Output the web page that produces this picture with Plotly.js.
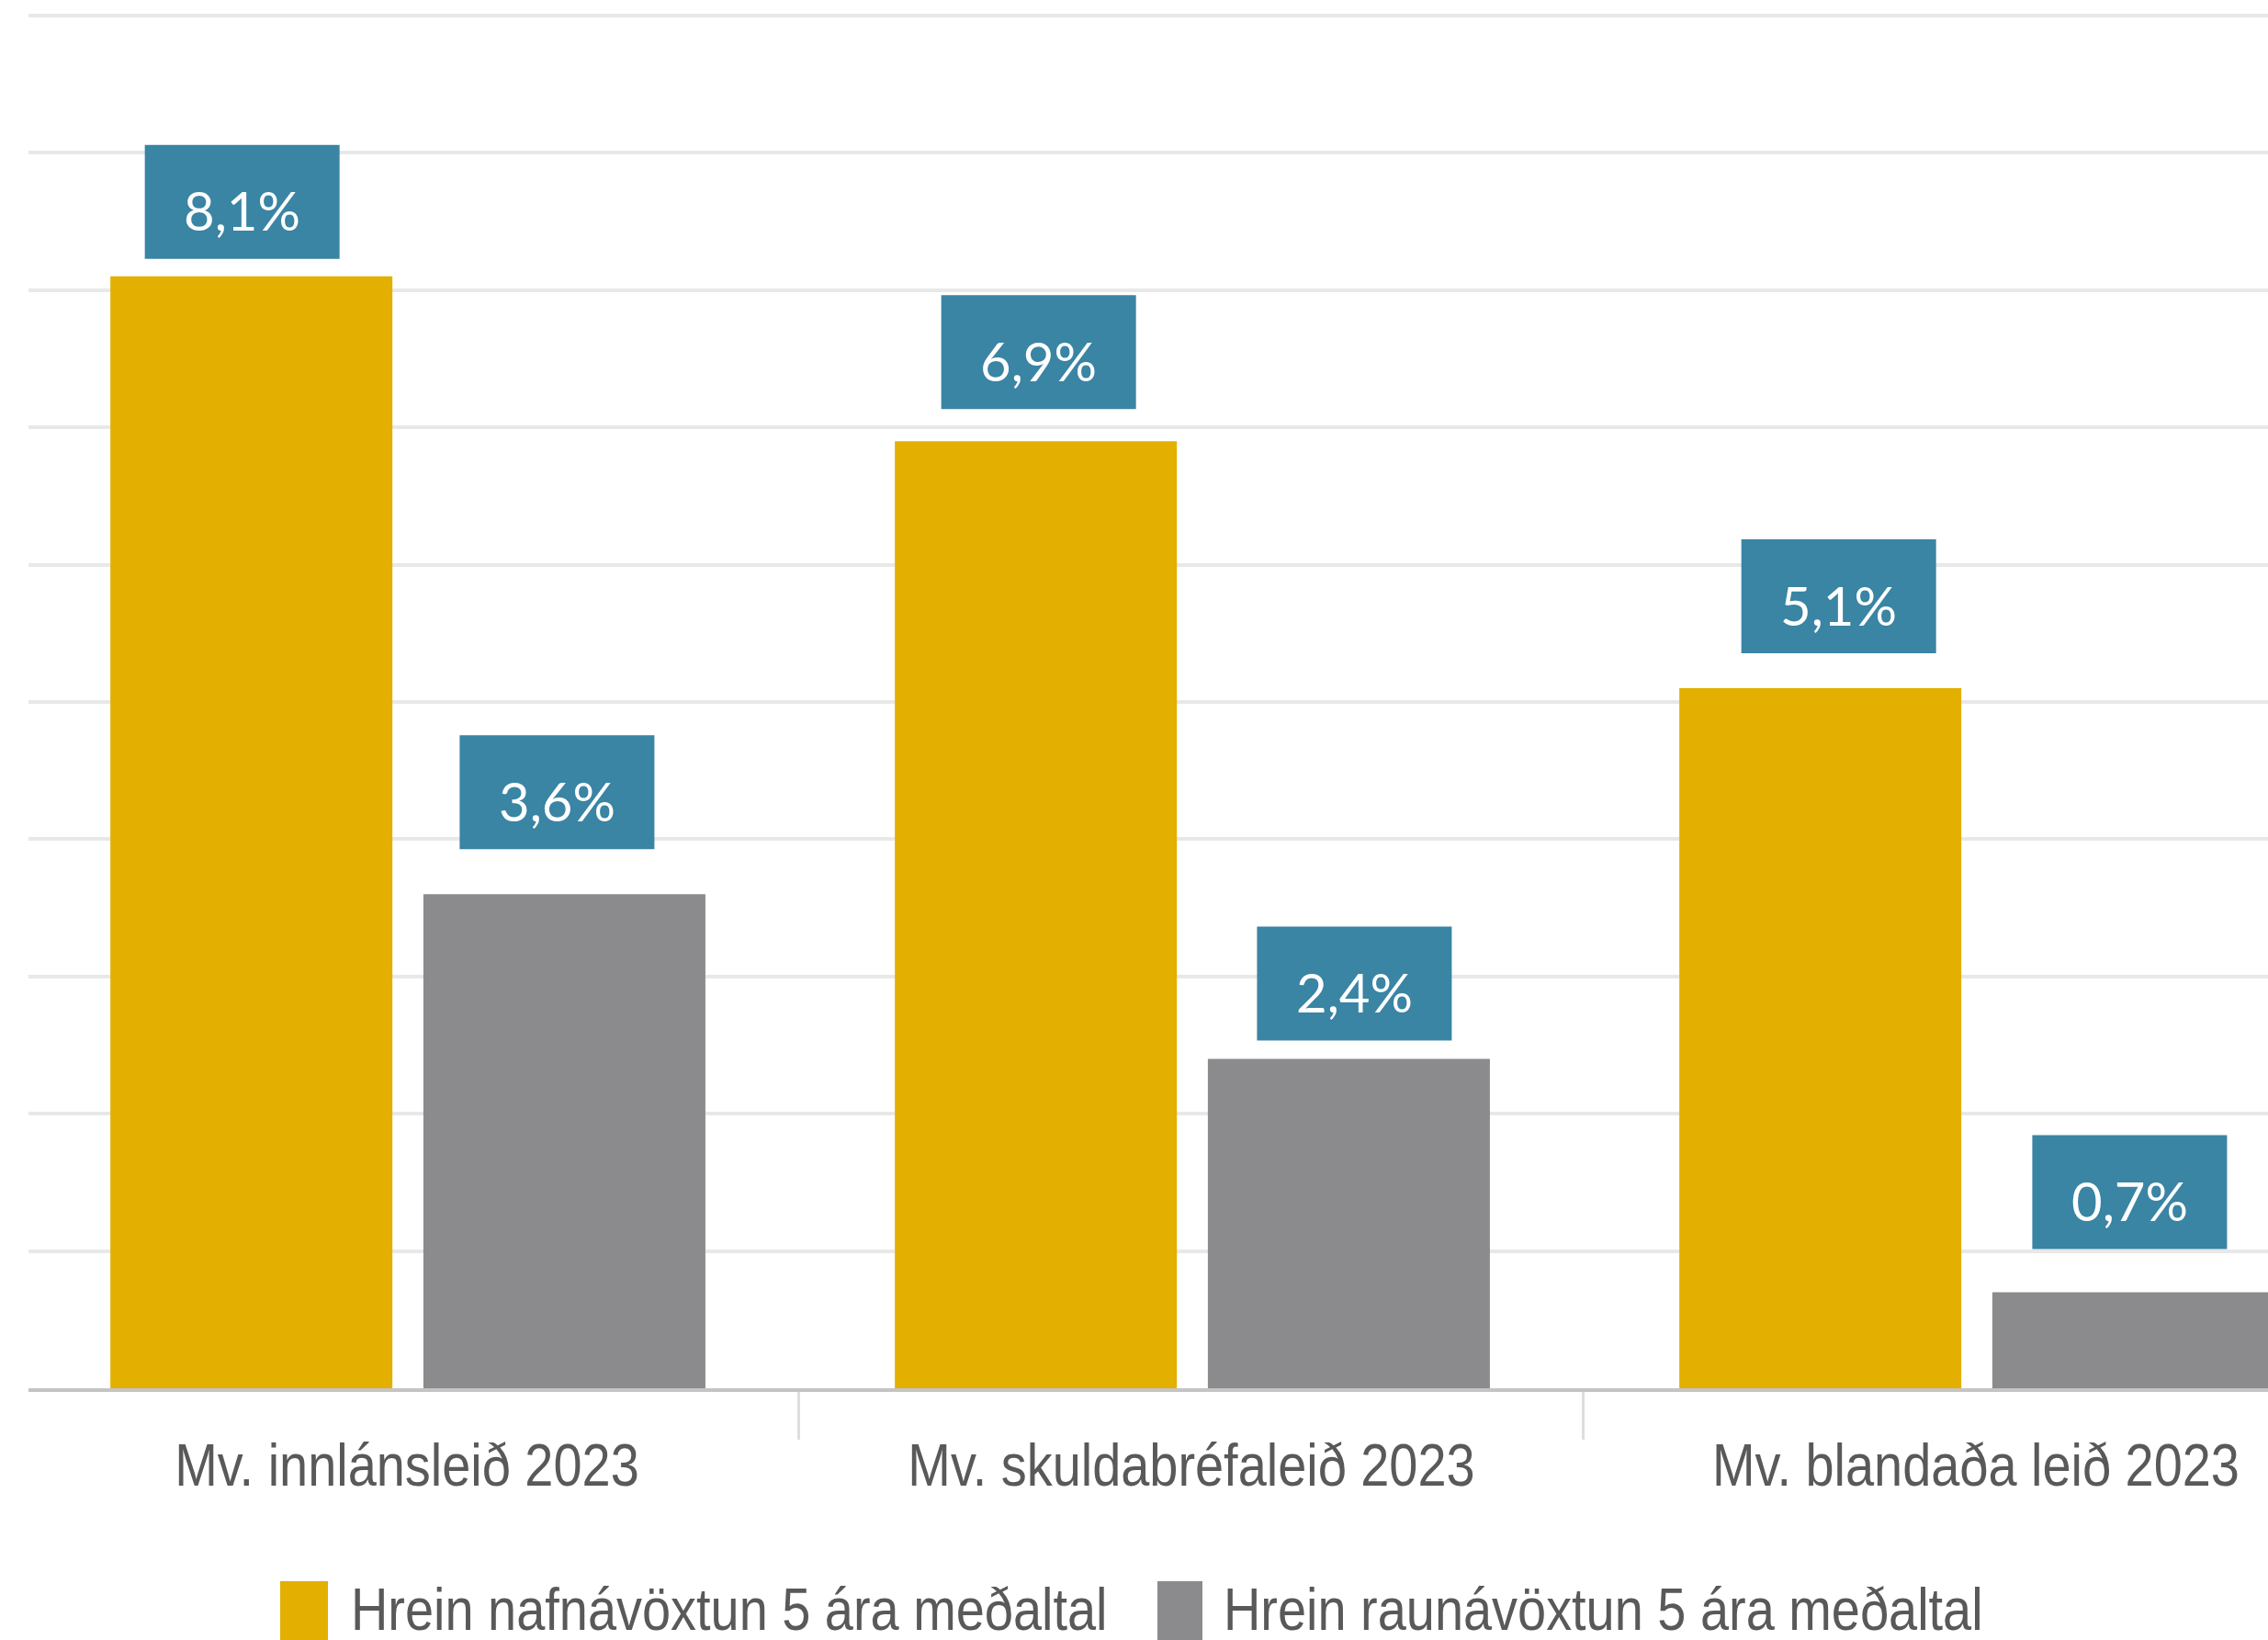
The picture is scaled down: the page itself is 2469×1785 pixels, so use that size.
<!DOCTYPE html>
<html>
<head>
<meta charset="utf-8">
<script src="https://cdn.plot.ly/plotly-3.0.1.min.js"></script>
<style>
  html, body { margin: 0; padding: 0; background: #ffffff; overflow: hidden; }
  #chart { width: 2469px; height: 1785px; }
</style>
</head>
<body>
<div id="chart"></div>
<script>
// ---- data ----
const categories = ["Mv. innlánsleið 2023", "Mv. skuldabréfaleið 2023", "Mv. blandaða leið 2023"];
const seriesNames = ["Hrein nafnávöxtun 5 ára meðaltal", "Hrein raunávöxtun 5 ára meðaltal"];
const nominalValues = [8.1, 6.9, 5.1];
const realValues = [3.6, 2.4, 0.7];

// ---- style ----
const W = 2469, H = 1785;
const M = { l: 31, r: 0, t: 15, b: 274 };
const plotW = W - M.l - M.r, plotH = H - M.t - M.b;
const colors = ["#E3AF00", "#8B8B8D"];
const boxColor = "#3A84A4";
const barWidth = 0.3595;
const barOffsets = [-0.378, 0.021];
const sansFont = "'Liberation Sans', Arial, sans-serif";
const labelFont = "Lato, 'Open Sans', sans-serif";
const condense = 0.86;
// label box placement tweaks (px)
const boxW = 212, boxH = 124;
const nominalLabelGap = [19, 35, 38];
const realLabelGap = [49, 20, 47];
const nominalLabelShift = [-10, 3, 20];
const realLabelShift = [-8, 6, -4];

const px2x = px => (px - M.l) / plotW;
const py2y = py => (H - M.b - py) / plotH;

const traces = [nominalValues, realValues].map((vals, s) => ({
  type: "bar",
  name: seriesNames[s],
  x: categories,
  y: vals,
  width: barWidth,
  offset: barOffsets[s],
  marker: { color: colors[s], line: { width: 0 } },
  hoverinfo: "skip",
  showlegend: false
}));

const fmt = v => v.toFixed(1).replace(".", ",") + "%";
const annotations = [];
const shapes = [];
[nominalValues, realValues].forEach((vals, s) => {
  const gaps = s === 0 ? nominalLabelGap : realLabelGap;
  const shifts = s === 0 ? nominalLabelShift : realLabelShift;
  vals.forEach((v, i) => {
    const cx = i + barOffsets[s] + barWidth / 2;
    shapes.push({
      type: "rect", xref: "x", yref: "y",
      xsizemode: "pixel", ysizemode: "pixel",
      xanchor: cx, yanchor: v,
      x0: shifts[i] - boxW / 2, x1: shifts[i] + boxW / 2,
      y0: gaps[i], y1: gaps[i] + boxH,
      fillcolor: boxColor, line: { width: 0 }, layer: "above"
    });
    annotations.push({
      xref: "x", yref: "y",
      x: cx, y: v,
      text: fmt(v),
      showarrow: false,
      xanchor: "center", yanchor: "middle",
      yshift: gaps[i] + boxH / 2 - 9, xshift: shifts[i],
      font: { family: labelFont, size: 58, color: "#ffffff" }
    });
  });
});

// custom legend (large swatches)
const legendItems = [
  { sx0: 305, sx1: 357, tx: 380 },
  { sx0: 1260, sx1: 1309, tx: 1330 }
];
legendItems.forEach((it, s) => {
  shapes.push({
    type: "rect", xref: "paper", yref: "paper",
    x0: px2x(it.sx0), x1: px2x(it.sx1), y0: py2y(1800), y1: py2y(1721),
    fillcolor: colors[s], line: { width: 0 }
  });
  annotations.push({
    xref: "paper", yref: "paper",
    x: px2x(it.tx), y: py2y(1751),
    xanchor: "left", yanchor: "middle", align: "left",
    text: seriesNames[s], showarrow: false,
    font: { family: sansFont, size: 65, color: "#595959" }
  });
});

const layout = {
  width: W, height: H, autosize: false,
  margin: M,
  paper_bgcolor: "#ffffff", plot_bgcolor: "#ffffff",
  barmode: "overlay",
  showlegend: false,
  xaxis: {
    type: "category",
    range: [-0.4824, 2.3724],
    tickson: "boundaries",
    ticks: "outside", ticklen: 52, tickwidth: 3, tickcolor: "#dedede",
    ticklabelstandoff: 24,
    showline: true, linecolor: "#c4c4c4", linewidth: 4,
    showgrid: false, zeroline: false,
    tickangle: 0,
    tickfont: { family: sansFont, size: 65, color: "#595959" },
    fixedrange: true
  },
  yaxis: {
    range: [0, plotH / 149.4],
    dtick: 1, tick0: 0,
    showgrid: true, gridcolor: "#e8e8e8", gridwidth: 4,
    showticklabels: false, ticks: "", zeroline: false, showline: false,
    fixedrange: true
  },
  annotations: annotations,
  shapes: shapes
};

Plotly.newPlot("chart", traces, layout, { displayModeBar: false, staticPlot: true }).then(gd => {
  // horizontally condense the axis/legend text like the reference's narrow type
  const targets = [];
  gd.querySelectorAll(".xtick text").forEach(t => targets.push(t));
  gd.querySelectorAll(".annotation-text").forEach(t => {
    if (seriesNames.indexOf(t.textContent) >= 0) targets.push(t);
  });
  targets.forEach(t => {
    const len = t.getComputedTextLength();
    t.setAttribute("textLength", (len * condense).toFixed(1));
    t.setAttribute("lengthAdjust", "spacingAndGlyphs");
  });
});
</script>
</body>
</html>
